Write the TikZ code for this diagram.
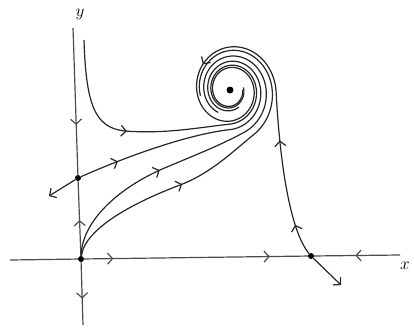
\documentclass[tikz,border=0pt]{standalone}
\usetikzlibrary{arrows.meta,decorations.markings}

\tikzset{
  traj/.style={line width=1.2pt,black!85},
  axis/.style={line width=1.2pt,black!70},
  fixpt/.style={circle,fill=black,inner sep=0pt,minimum size=6pt},
  arrat/.style={postaction={decorate,decoration={markings,mark=at position #1 with {\arrow{>}}}}},
}

\begin{document}
\begin{tikzpicture}[x=1pt,y=-1pt,>={Straight Barb[length=5pt,width=11pt]}]
\useasboundingbox (0,0) rectangle (414,327);
% spiral piece round the focus: start angle, end angle, start radius
\newcommand{\spiralfrom}[3]{-- plot[domain=#1:#2,samples=160,variable=\t]
  ({230+#3*exp(-0.0018*(\t-(#1)))*cos(\t)},{90-1.1*#3*exp(-0.0018*(\t-(#1)))*sin(\t)})}
  \coordinate (xl) at (10,260);
  \coordinate (xr) at (400,255);
  \coordinate (yt) at (73,28);
  \coordinate (yb) at (83,325);
  \coordinate (t1) at (84,40);
  \coordinate (s1l) at (49,196);
  \coordinate (s2r) at (341,285);
  \node[fixpt] (O) at (81,259) {};
  \node[fixpt] (S1) at (78,178) {};
  \node[fixpt] (S2) at (311,256) {};
  \node[fixpt,minimum size=7pt] (F) at (230,90) {};
  % axes
  \draw[axis] (xl) -- (O);
  \draw[axis,arrat=0.13,arrat=0.83] (O) -- (S2);
  \draw[axis,arrat=0.52] (xr) -- (S2);
  \draw[axis,arrat=0.66] (yt) -- (S1);
  \draw[axis,arrat=0.48] (O) -- (S1);
  \draw[axis,arrat=0.58] (O) -- (yb);
  \node[font=\LARGE] (ylab) at (80,14) {$y$};
  \node[font=\LARGE] (xlab) at (405,266) {$x$};
  % saddle on the x axis
  \draw[traj,->] (S2) -- (s2r);
  \draw[traj,arrat=32pt,arrat=118pt,arrat=272pt] (S2) .. controls (288,228) and (279,150) .. (276,90) \spiralfrom{0}{720}{46};
  % saddle on the y axis
  \draw[traj,->] (S1) -- (s1l);
  \draw[traj,arrat=40pt] (S1) .. controls (130,155) and (190,134) .. (230,129.6) \spiralfrom{-90}{300}{36};
  % from the top
  \draw[traj,arrat=112pt] (t1) .. controls (86,105) and (95,128) .. (125,131)
    .. controls (165,134) and (195,128) .. (230,124.1) \spiralfrom{-90}{370}{31};
  % out of the origin
  \draw[traj,arrat=122pt] (O) .. controls (82,220) and (120,188) .. (160,170)
    .. controls (190,157) and (217,147) .. (244,132.4) \spiralfrom{-70}{240}{41};
  \draw[traj,arrat=128pt] (O) .. controls (85,228) and (135,202) .. (180,185)
    .. controls (212,173) and (236,148.5) .. (253.5,134.8) \spiralfrom{-60}{190}{47};
\end{tikzpicture}
\end{document}
